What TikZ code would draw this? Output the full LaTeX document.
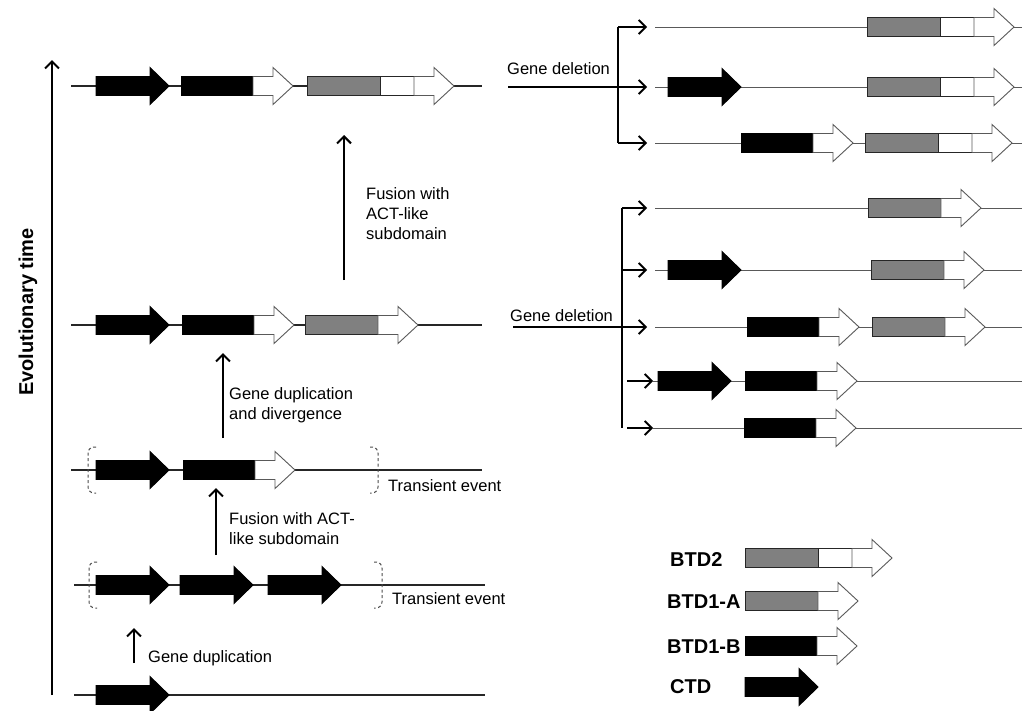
\documentclass[tikz,border=0pt]{standalone}
\usepackage{fontspec}
\setmainfont{Liberation Sans}
\usetikzlibrary{arrows.meta, positioning}
\definecolor{btdgray}{RGB}{128,128,128}

\begin{document}
\begin{tikzpicture}[
        x=1pt, y=-1pt,
        chrom/.style={line width=1.2pt, black!85},
        chromr/.style={line width=1pt, black!65},
        transient/.style={dash pattern=on 3pt off 2.5pt, line width=1pt, black!70, rounded corners=6pt},
        evarrow/.style={-{Straight Barb[length=7pt, width=14pt]}, line width=2pt},
        brarrow/.style={-{Straight Barb[length=7pt, width=14pt]}, line width=1.8pt},
        trunk/.style={line width=1.8pt},
        evlabel/.style={anchor=west, inner sep=0pt, align=left, font=\fontsize{16.5}{20}\selectfont},
        legendlab/.style={anchor=base west, inner sep=0pt, font=\fontsize{20}{24}\selectfont\bfseries},
        whitehead/.pic={\filldraw[fill=white, draw=black!65, line width=0.9pt] (0,-9.5) -- (20,-9.5) -- (20,-18.5) -- (40,0) -- (20,18.5) -- (20,9.5) -- (0,9.5) -- cycle;},
        ctd/.pic={\filldraw[fill=black, draw=black, line width=0.9pt] (0,-9.5) -- (54,-9.5) -- (54,-18.5) -- (73,0) -- (54,18.5) -- (54,9.5) -- (0,9.5) -- cycle;},
        btdb/.pic={\filldraw[fill=black, draw=black, line width=0.9pt] (0,-9.5) rectangle (72,9.5); \pic at (72,0) {whitehead};},
        btda/.pic={\filldraw[fill=btdgray, draw=black!85, line width=0.9pt] (0,-9.5) rectangle (73,9.5); \pic at (73,0) {whitehead};},
        btdtwo/.pic={\filldraw[fill=btdgray, draw=black!85, line width=0.9pt] (0,-9.5) rectangle (73,9.5);
            \filldraw[fill=white, draw=black!85, line width=0.9pt] (73,-9.5) rectangle (107,9.5); \pic at (107,0) {whitehead};}
    ]
    \useasboundingbox (0,0) rectangle (1022,710);

    % Time axis
    \coordinate (time-s) at (52,695);
    \coordinate (time-e) at (52,60);
    \draw[evarrow] (time-s) -- (time-e);
    \node[rotate=90, inner sep=0pt, font=\fontsize{20}{24}\selectfont\bfseries] (evtime) at (28,312) {Evolutionary time};

    % Ancestral rows
    \coordinate (rowA-w) at (71,86);  \coordinate (rowA-e) at (482,86);
    \coordinate (rowB-w) at (71,325); \coordinate (rowB-e) at (482,325);
    \coordinate (rowC-w) at (71,470); \coordinate (rowC-e) at (482,470);
    \coordinate (rowD-w) at (74,585); \coordinate (rowD-e) at (485,585);
    \coordinate (rowE-w) at (74,695); \coordinate (rowE-e) at (485,695);
    \draw[chrom] (rowA-w) -- (rowA-e);
    \draw[chrom] (rowB-w) -- (rowB-e);
    \draw[chrom] (rowC-w) -- (rowC-e);
    \draw[chrom] (rowD-w) -- (rowD-e);
    \draw[chrom] (rowE-w) -- (rowE-e);

    \pic at (96,86) {ctd};  \pic at (181,86) {btdb};  \pic at (307,86) {btdtwo};
    \pic at (96,325) {ctd}; \pic at (182,325) {btdb}; \pic at (305,325) {btda};
    \pic at (96,470) {ctd}; \pic at (183,470) {btdb};
    \pic at (96,585) {ctd}; \pic at (180,585) {ctd};  \pic at (268,585) {ctd};
    \pic at (96,695) {ctd};

    % Transient brackets
    \draw[transient] (96,447) -- (88,447) -- (88,493) -- (96,493);
    \draw[transient] (370,447) -- (378,447) -- (378,493) -- (370,493);
    \draw[transient] (97,562) -- (89,562) -- (89,608) -- (97,608);
    \draw[transient] (374,562) -- (382,562) -- (382,608) -- (374,608);
    \node[evlabel, anchor=base west] (transC) at (388,491) {Transient event};
    \node[evlabel, anchor=base west] (transD) at (392,604) {Transient event};

    % Events
    \coordinate (dup-s) at (134,663);   \coordinate (dup-e) at (134,628);
    \coordinate (fus1-s) at (216,555);  \coordinate (fus1-e) at (216,488);
    \coordinate (div-s) at (223,438);   \coordinate (div-e) at (223,353);
    \coordinate (fus2-s) at (344,280);  \coordinate (fus2-e) at (344,135);
    \draw[evarrow] (dup-s) -- (dup-e);
    \draw[evarrow] (fus1-s) -- (fus1-e);
    \draw[evarrow] (div-s) -- (div-e);
    \draw[evarrow] (fus2-s) -- (fus2-e);
    \node[evlabel, anchor=base west] (duplab) at (148,662) {Gene duplication};
    \node[evlabel] (fus1lab) at (229,529) {Fusion with ACT-\\like subdomain};
    \node[evlabel] (divlab) at (229,405) {Gene duplication\\and divergence};
    \node[evlabel] (fus2lab) at (366,214) {Fusion with\\ACT-like\\subdomain};

    % Deletion panel 1
    \node[evlabel, anchor=base west] (del1) at (507,74) {Gene deletion};
    \coordinate (del1-s) at (508,87);
    \coordinate (br1-t) at (618,27);
    \coordinate (br1-m) at (618,87);
    \coordinate (br1-b) at (618,143);
    \draw[trunk] (del1-s) -- (br1-m);
    \draw[trunk] (br1-t) -- (br1-b);
    \draw[brarrow] (br1-t) -- ++(29,0);
    \draw[brarrow] (br1-m) -- ++(29,0);
    \draw[brarrow] (br1-b) -- ++(29,0);

    \draw[chromr] (655,27) -- (1022,27);
    \draw[chromr] (655,87) -- (1022,87);
    \draw[chromr] (655,143) -- (1022,143);
    \pic at (867,27) {btdtwo};
    \pic at (668,87) {ctd};  \pic at (867,87) {btdtwo};
    \pic at (741,143) {btdb}; \pic at (865,143) {btdtwo};

    % Deletion panel 2
    \node[evlabel, anchor=base west] (del2) at (510,321) {Gene deletion};
    \coordinate (del2-s) at (513,327);
    \coordinate (br2-t) at (622,208);
    \coordinate (br2-m) at (622,327);
    \coordinate (br2-b) at (622,428);
    \draw[trunk] (del2-s) -- (br2-m);
    \draw[trunk] (br2-t) -- (br2-b);
    \draw[brarrow] (br2-t) -- ++(25,0);
    \draw[brarrow] (622,270) -- ++(25,0);
    \draw[brarrow] (br2-m) -- ++(25,0);
    \draw[brarrow] (627,381) -- ++(26,0);
    \draw[brarrow] (627,428) -- ++(26,0);

    \draw[chromr] (655,208) -- (1022,208);
    \draw[chromr] (655,270) -- (1022,270);
    \draw[chromr] (655,327) -- (1022,327);
    \draw[chromr] (653,381) -- (1022,381);
    \draw[chromr] (653,428) -- (1022,428);
    \pic at (868,208) {btda};
    \pic at (668,270) {ctd};  \pic at (871,270) {btda};
    \pic at (747,327) {btdb}; \pic at (872,327) {btda};
    \pic at (658,381) {ctd};  \pic at (745,381) {btdb};
    \pic at (744,428) {btdb};

    % Legend
    \node[legendlab] (legbtdtwo) at (670,566) {BTD2};
    \node[legendlab] (legbtda) at (667,608) {BTD1-A};
    \node[legendlab] (legbtdb) at (667,653) {BTD1-B};
    \node[legendlab] (legctd) at (670,693) {CTD};
    \pic at (745,558) {btdtwo};
    \pic at (745,601) {btda};
    \pic at (745,646) {btdb};
    \pic at (745,687) {ctd};

\end{tikzpicture}
\end{document}
